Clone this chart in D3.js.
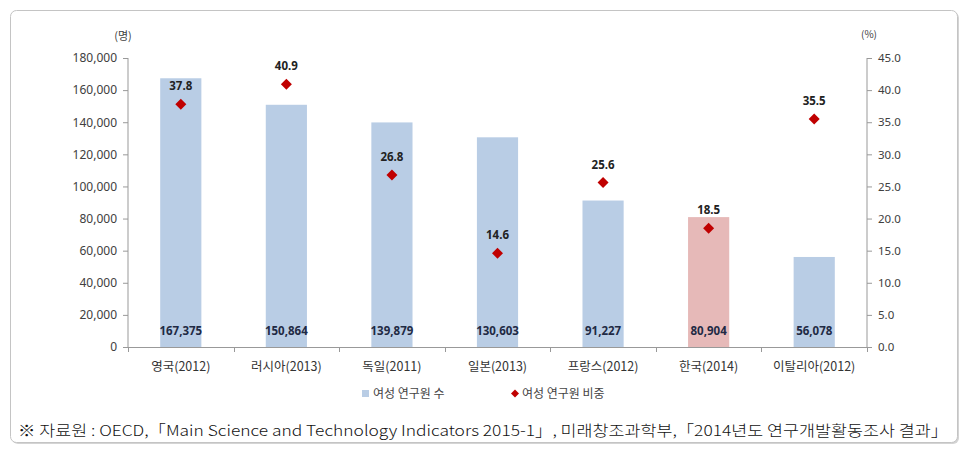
<!DOCTYPE html>
<html><head><meta charset="utf-8">
<script src="https://cdn.jsdelivr.net/npm/d3@7"></script>
<style>body{margin:0;background:#fff;}svg{display:block;font-family:"Noto Sans CJK KR","Noto Sans",sans-serif;}</style>
</head><body>
<svg id="c" width="979" height="454"></svg>
<script>
const categories = ["영국(2012)","러시아(2013)","독일(2011)","일본(2013)","프랑스(2012)","한국(2014)","이탈리아(2012)"];
const researchers = [167375,150864,139879,130603,91227,80904,56078];
const shares = [37.8,40.9,26.8,14.6,25.6,18.5,35.5];
const leftTicks = [0,20000,40000,60000,80000,100000,120000,140000,160000,180000];
const rightTicks = [0,5,10,15,20,25,30,35,40,45];
const highlight = "한국(2014)";
const legendLabels = ["여성 연구원 수","여성 연구원 비중"];
const footnote = "※ 자료원 : OECD,「Main Science and Technology Indicators 2015-1」, 미래창조과학부,「2014년도 연구개발활동조사 결과」";

const svg = d3.select("#c");
// outer box
svg.append("rect").attr("x",12).attr("y",12).attr("width",947).attr("height",432).attr("rx",6)
  .attr("fill","#d4d4d4");
svg.append("rect").attr("x",10.5).attr("y",10.5).attr("width",947).attr("height",432).attr("rx",6)
  .attr("fill","#fff").attr("stroke","#c4c4c4").attr("stroke-width",1);

const L=128, R=867, T=58, B=347;
const x = d3.scaleBand().domain(categories).range([L,R]).paddingInner(0.61).paddingOuter(0.305);
const yL = d3.scaleLinear().domain([0,180000]).range([B,T]);
const yR = d3.scaleLinear().domain([0,45]).range([B,T]);
const data = categories.map((c,i)=>({c,v:researchers[i],p:shares[i]}));
const diamond = r => `M0,${-r}L${r},0L0,${r}L${-r},0Z`;

const txt="#404040";
const numFont="'Noto Sans','DejaVu Sans',sans-serif";
// left axis
const gl = svg.append("g").attr("transform",`translate(${L},0)`)
  .call(d3.axisLeft(yL).tickValues(leftTicks).tickSize(5).tickPadding(6).tickFormat(d3.format(",")));
gl.selectAll("text").attr("fill",txt).style("font-size","12px").style("font-family",numFont);
gl.selectAll("line,path").attr("stroke","#999");
gl.select(".domain").attr("d",`M0,${T}V${B}`);
// right axis
const gr = svg.append("g").attr("transform",`translate(${R},0)`)
  .call(d3.axisRight(yR).tickValues(rightTicks).tickSize(5).tickPadding(6).tickFormat(d3.format(".1f")));
gr.selectAll("text").attr("fill",txt).style("font-size","11.5px").style("font-family",numFont);
gr.selectAll("line,path").attr("stroke","#999");
gr.select(".domain").attr("d",`M0,${T}V${B}`);

// bars
svg.append("g").selectAll("rect").data(data).join("rect")
  .attr("x",d=>x(d.c)).attr("width",x.bandwidth())
  .attr("y",d=>yL(d.v)).attr("height",d=>yL(0)-yL(d.v))
  .attr("fill",d=>d.c===highlight?"#e6b9b8":"#b9cde5");

// x axis
svg.append("line").attr("x1",L).attr("x2",R).attr("y1",B+0.5).attr("y2",B+0.5).attr("stroke","#999");
const bounds = d3.range(categories.length+1).map(i=>L+i*(R-L)/categories.length);
svg.append("g").selectAll("line").data(bounds).join("line")
  .attr("x1",d=>Math.round(d)+0.5).attr("x2",d=>Math.round(d)+0.5).attr("y1",B).attr("y2",B+5).attr("stroke","#999");
svg.append("g").selectAll("text").data(categories).join("text")
  .attr("x",d=>x(d)+x.bandwidth()/2).attr("y",371).attr("text-anchor","middle")
  .attr("fill","#333").style("font-size","12.5px").text(d=>d);

// bar value labels
svg.append("g").selectAll("text").data(data).join("text")
  .attr("x",d=>x(d.c)+x.bandwidth()/2).attr("y",335).attr("text-anchor","middle")
  .attr("fill","#1f2a44").style("font-size","11.5px").style("font-weight","bold")
  .style("font-family",numFont)
  .text(d=>d3.format(",")(d.v));

// markers
svg.append("g").selectAll("path").data(data).join("path")
  .attr("transform",d=>`translate(${x(d.c)+x.bandwidth()/2},${yR(d.p)})`)
  .attr("d",diamond(5.5)).attr("fill","#c00000");
svg.append("g").selectAll("text").data(data).join("text")
  .attr("x",d=>x(d.c)+x.bandwidth()/2).attr("y",d=>yR(d.p)-14).attr("text-anchor","middle")
  .attr("fill","#222").style("font-size","11.5px").style("font-weight","bold")
  .style("font-family",numFont)
  .text(d=>d3.format(".1f")(d.p));

// units
svg.append("text").attr("x",123).attr("y",40).attr("text-anchor","middle").attr("fill",txt).style("font-size","11px").text("(명)");
svg.append("text").attr("x",869).attr("y",38).attr("text-anchor","middle").attr("fill",txt).style("font-size","10px").text("(%)");

// legend
svg.append("rect").attr("x",362).attr("y",390).attr("width",7).attr("height",7).attr("fill","#b9cde5");
svg.append("text").attr("x",373).attr("y",397.5).attr("fill","#444").style("font-size","12px").text(legendLabels[0]);
svg.append("path").attr("transform","translate(515,393.5)").attr("d",diamond(4)).attr("fill","#c00000");
svg.append("text").attr("x",522).attr("y",397.5).attr("fill","#444").style("font-size","12px").text(legendLabels[1]);

// footnote
svg.append("text").attr("x",18).attr("y",436).attr("fill","#111").style("font-size","15px").style("font-weight","300")
  .attr("textLength",930).attr("lengthAdjust","spacingAndGlyphs").text(footnote);
</script>
</body></html>
